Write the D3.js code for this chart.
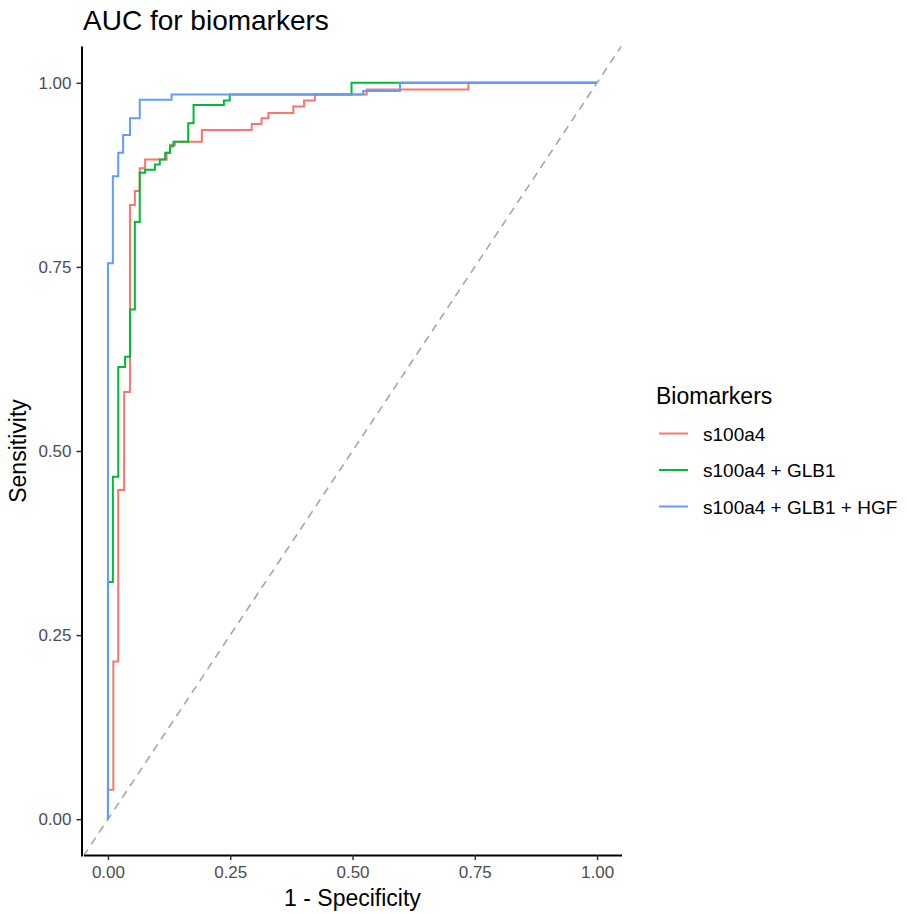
<!DOCTYPE html>
<html>
<head>
<meta charset="utf-8">
<script src="https://cdn.jsdelivr.net/npm/d3@7"></script>
<style>
  body { margin: 0; background: #fff; }
  text { font-family: "Liberation Sans", Arial, sans-serif; }
</style>
</head>
<body>
<svg id="chart"></svg>
<script>
// ROC step vertices (1 - specificity, sensitivity)
const s100a4X = [0, 0, .011, .011, .021, .021, .033, .033, .045, .045, .055, .055, .065, .065, .076, .076, .120, .120, .127, .127, .137, .137, .192, .192, .294, .294, .314, .314, .328, .328, .379, .379, .401, .401, .423, .423, .529, .529, .737, .737, 1]
const s100a4Y = [0, .040, .040, .214, .214, .447, .447, .580, .580, .834, .834, .853, .853, .884, .884, .896, .896, .905, .905, .916, .916, .920, .920, .936, .936, .944, .944, .952, .952, .959, .959, .968, .968, .976, .976, .984, .984, .991, .991, 1, 1]

const glb1X = [0, 0, .010, .010, .021, .021, .035, .035, .045, .045, .055, .055, .065, .065, .076, .076, .096, .096, .106, .106, .117, .117, .127, .127, .134, .134, .164, .164, .175, .175, .237, .237, .249, .249, .498, .498, 1]
const glb1Y = [0, .322, .322, .465, .465, .614, .614, .628, .628, .692, .692, .811, .811, .878, .878, .882, .882, .889, .889, .896, .896, .905, .905, .914, .914, .920, .920, .945, .945, .970, .970, .976, .976, .984, .984, 1, 1]

const hgfX = [0, 0, .010, .010, .021, .021, .031, .031, .045, .045, .065, .065, .130, .130, .522, .522, .597, .597, 1]
const hgfY = [0, .755, .755, .873, .873, .905, .905, .929, .929, .952, .952, .977, .977, .984, .984, .989, .989, 1, 1]

const seriesNames = ['s100a4', 's100a4 + GLB1', 's100a4 + GLB1 + HGF']
const seriesColors = ['#F8766D', '#00BA38', '#619CFF']
const tickValues = [0, 0.25, 0.5, 0.75, 1]

const width = 907
const height = 914
const panel = {left: 83.5, right: 621.5, top: 46, bottom: 856}

const svg = d3.select('#chart')
    .attr('width', width)
    .attr('height', height)

const x = d3.scaleLinear().domain([-0.05, 1.05]).range([panel.left, panel.right])
const y = d3.scaleLinear().domain([-0.05, 1.05]).range([panel.bottom, panel.top])

svg.append('defs').append('clipPath').attr('id', 'clip')
    .append('rect')
    .attr('x', panel.left).attr('y', panel.top)
    .attr('width', panel.right - panel.left)
    .attr('height', panel.bottom - panel.top)

// reference diagonal
svg.append('line')
    .attr('clip-path', 'url(#clip)')
    .attr('x1', x(-0.05)).attr('y1', y(-0.05))
    .attr('x2', x(1.05)).attr('y2', y(1.05))
    .attr('stroke', '#a6a6a6')
    .attr('stroke-width', 1.6)
    .attr('stroke-dasharray', '8,6')

const series = [
    {name: seriesNames[0], xs: s100a4X, ys: s100a4Y},
    {name: seriesNames[1], xs: glb1X, ys: glb1Y},
    {name: seriesNames[2], xs: hgfX, ys: hgfY}
]

const line = d3.line()
    .x(d => x(d[0]))
    .y(d => y(d[1]))

svg.append('g').selectAll('path')
    .data(series)
    .enter()
    .append('path')
    .attr('d', s => line(d3.zip(s.xs, s.ys)))
    .attr('fill', 'none')
    .attr('stroke', (s, i) => seriesColors[i])
    .attr('stroke-width', 2)

// axes
const fmt = d3.format('.2f')
const xAxis = svg.append('g')
    .attr('transform', `translate(0,${panel.bottom - 1})`)
    .call(d3.axisBottom(x).tickValues(tickValues).tickFormat(fmt).tickSize(5).tickSizeOuter(0).tickPadding(6))
const yAxis = svg.append('g')
    .attr('transform', `translate(${panel.left - 2},0)`)
    .call(d3.axisLeft(y).tickValues(tickValues).tickFormat(fmt).tickSize(5).tickSizeOuter(0).tickPadding(5))

;[xAxis, yAxis].forEach(a => {
    a.select('.domain').attr('stroke', '#000').attr('stroke-width', 2)
    a.selectAll('.tick line').attr('stroke', '#333').attr('stroke-width', 1.5)
    a.selectAll('.tick text')
        .attr('fill', '#4d4d4d')
        .style('font-size', '17px')
        .style('font-family', '"Liberation Sans", Arial, sans-serif')
})

// titles
svg.append('text')
    .attr('x', 83).attr('y', 30)
    .style('font-size', '28px')
    .attr('fill', '#000')
    .text('AUC for biomarkers')

svg.append('text')
    .attr('x', (x(0) + x(1)) / 2).attr('y', 906)
    .attr('text-anchor', 'middle')
    .style('font-size', '23px')
    .text('1 - Specificity')

svg.append('text')
    .attr('transform', `translate(26,${(y(0) + y(1)) / 2}) rotate(-90)`)
    .attr('text-anchor', 'middle')
    .style('font-size', '23px')
    .text('Sensitivity')

// legend
const legend = svg.append('g').attr('transform', 'translate(656,0)')
legend.append('text')
    .attr('x', 0).attr('y', 404)
    .style('font-size', '23px')
    .text('Biomarkers')

const items = legend.selectAll('.item')
    .data(seriesNames)
    .enter()
    .append('g')
    .attr('class', 'item')
    .attr('transform', (d, i) => `translate(0,${433.5 + i * 36.5})`)
items.append('line')
    .attr('x1', 3).attr('x2', 32)
    .attr('stroke', (d, i) => seriesColors[i])
    .attr('stroke-width', 2)
items.append('text')
    .attr('x', 47).attr('y', 7)
    .style('font-size', '19px')
    .text(d => d)
</script>
</body>
</html>
